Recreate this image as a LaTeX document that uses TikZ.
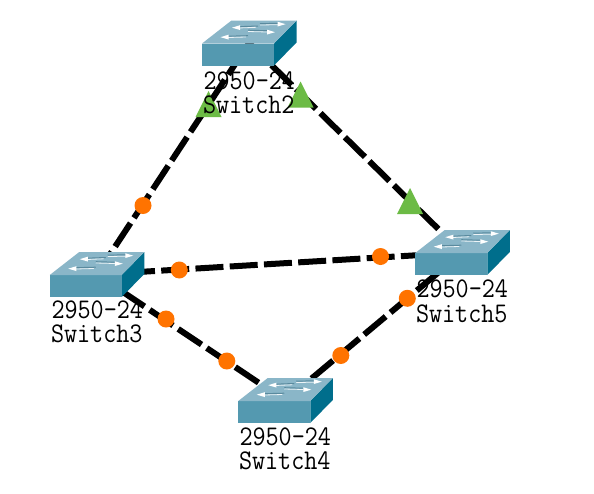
\documentclass[tikz,border=0pt]{standalone}
\usepackage{fontspec}
\definecolor{swfront}{HTML}{5499B0}
\definecolor{swside}{HTML}{006E8C}
\definecolor{swtop}{HTML}{8AB6C8}
\definecolor{swmark}{HTML}{5A8A9E}
\definecolor{dotor}{HTML}{FF7300}
\definecolor{trigreen}{HTML}{6CBB45}
\tikzset{
  swbox/.style={minimum width=94pt,minimum height=45pt,inner sep=0pt,outer sep=0pt},
  linkline/.style={line width=6pt,black},
  dot/.style={circle,fill=dotor,minimum size=17pt,inner sep=0pt,outer sep=0pt},
  swlabel/.style={inner sep=0pt,outer sep=0pt,anchor=base west,font=\ttfamily\fontsize{25.4}{25.4}\selectfont},
  markln/.style={line width=1pt,swmark},
  markwh/.style={line width=.8pt,white!85!swtop},
}
\newcommand{\tall}[1]{\scalebox{1}[1.12]{#1}}
% #1 = box node name: draws the switch body in that box (origin = front bottom-left)
\newcommand{\swbody}[1]{%
  \begin{scope}[shift={(#1.south west)}]
    \fill[swside] (72,0) -- (72,-22) -- (94.5,-45) -- (94.5,-23) -- cycle;
    \fill[swfront] (0,0) rectangle (72,-22);
    \fill[swtop] (0,-22) -- (72,-22) -- (94.5,-45) -- (29.5,-45) -- cycle;
    \draw[markln] (56,-39.5) -- (37,-38.8);
    \draw[markwh] (54,-38.2) -- (37,-37.5);
    \fill[white] (30,-37.8) -- (38,-40.3) -- (38,-35.5) -- cycle;
    \draw[markln] (58,-41.8) -- (76,-42.2);
    \draw[markwh] (58,-40.5) -- (76,-40.8);
    \fill[white] (83.5,-41.3) -- (75.5,-43.8) -- (75.5,-39) -- cycle;
    \draw[markln] (46,-29.8) -- (26,-29.3);
    \draw[markwh] (44,-28.5) -- (26,-28);
    \fill[white] (18.5,-28.3) -- (26.5,-30.8) -- (26.5,-26) -- cycle;
    \draw[markln] (46,-35.3) -- (65,-34.8);
    \draw[markwh] (46,-34) -- (65,-33.5);
    \fill[white] (73,-33.3) -- (65,-35.8) -- (65,-31) -- cycle;
  \end{scope}}
\newcommand{\tri}[1]{\fill[trigreen] (#1) ++(0,-13) -- ++(13,26) -- ++(-26,0) -- cycle;}
\begin{document}
\begin{tikzpicture}[x=1pt,y=-1pt]
\useasboundingbox (0,0) rectangle (594,493);
\fill[white] (0,0) rectangle (594,493);
\node[swbox] (sw2) at (249,43) {};
\node[swbox] (sw3) at (96.75,274.5) {};
\node[swbox] (sw5) at (462.25,252.5) {};
\node[swbox] (sw4) at (285.25,400.5) {};
\draw[linkline,dash pattern=on 28pt off 6.3pt,dash phase=0.8pt] (sw3.center) -- (sw2.center);
\draw[linkline,dash pattern=on 28pt off 6.3pt,dash phase=2.7pt] (sw2.center) -- (sw5.center);
\draw[linkline,dash pattern=on 28pt off 6.3pt,dash phase=4pt] (sw3.center) -- (sw5.center);
\draw[linkline,dash pattern=on 28pt off 6.3pt,dash phase=4.9pt] (sw3.center) -- (sw4.center);
\draw[linkline,dash pattern=on 28pt off 6.3pt,dash phase=0pt] (sw4.center) -- (sw5.center);
\swbody{sw2}\swbody{sw3}\swbody{sw5}\swbody{sw4}
\node[dot] (d1) at (143,205.5) {};
\node[dot] (d2) at (179.3,270) {};
\node[dot] (d3) at (380.5,256.5) {};
\node[dot] (d4) at (166,319) {};
\node[dot] (d5) at (226.8,361) {};
\node[dot] (d6) at (407.3,298.3) {};
\node[dot] (d7) at (340.8,355.5) {};
\tri{208.5,104}
\tri{300.5,94.5}
\tri{410,201}
\node[swlabel] (l2a) at (203.5,89) {\tall{2950-24}};
\node[swlabel] (l2b) at (203,113) {\tall{Switch2}};
\node[swlabel] (l3a) at (51.5,318) {\tall{2950-24}};
\node[swlabel] (l3b) at (51,342) {\tall{Switch3}};
\node[swlabel] (l5a) at (416.5,297) {\tall{2950-24}};
\node[swlabel] (l5b) at (416,322) {\tall{Switch5}};
\node[swlabel] (l4a) at (239.5,445) {\tall{2950-24}};
\node[swlabel] (l4b) at (239,469) {\tall{Switch4}};
\end{tikzpicture}
\end{document}
